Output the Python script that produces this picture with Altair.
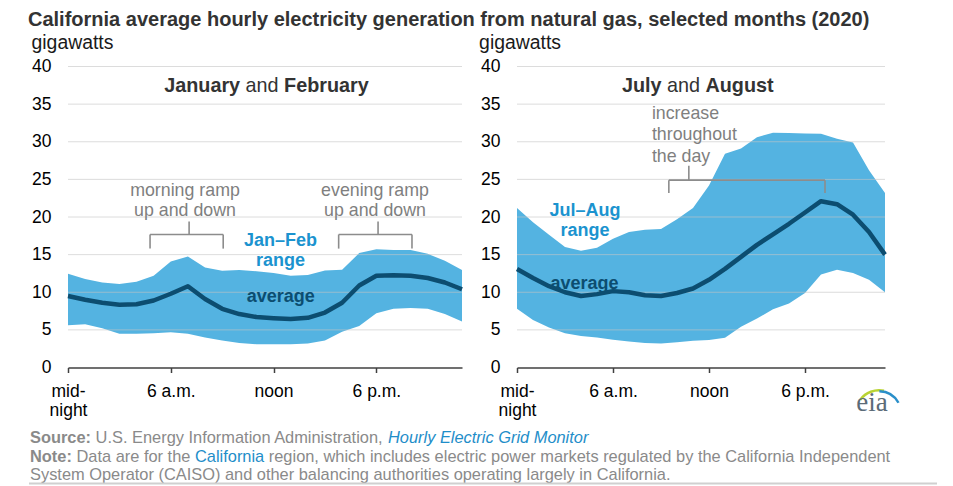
import altair as alt
import pandas as pd

# ---------------- data ----------------
HOURS = list(range(24))

JF_AVG = [9.5, 9.0, 8.6, 8.35, 8.4, 8.9, 9.8, 10.8, 9.1, 7.8, 7.1, 6.7, 6.55, 6.45, 6.6, 7.3, 8.6, 10.9, 12.2, 12.25, 12.2, 11.9, 11.3, 10.4]
JF_HI = [12.45, 11.75, 11.3, 11.1, 11.4, 12.2, 14.1, 14.75, 13.3, 12.85, 12.95, 12.8, 12.55, 12.2, 12.3, 12.9, 13.0, 15.2, 15.7, 15.6, 15.6, 15.1, 14.2, 12.95]
JF_LO = [5.6, 5.75, 5.2, 4.5, 4.5, 4.55, 4.7, 4.5, 4.0, 3.6, 3.25, 3.1, 3.1, 3.1, 3.2, 3.6, 4.75, 5.5, 7.2, 7.8, 7.9, 7.8, 7.1, 6.1]

JA_AVG = [13.1, 11.9, 10.8, 10.0, 9.5, 9.75, 10.15, 10.0, 9.6, 9.5, 9.9, 10.5, 11.65, 13.1, 14.7, 16.3, 17.7, 19.1, 20.6, 22.1, 21.7, 20.3, 18.0, 15.0]
JA_HI = [21.2, 19.3, 17.65, 16.0, 15.5, 15.9, 17.1, 18.0, 18.3, 18.4, 19.7, 21.2, 24.2, 28.4, 29.1, 30.6, 31.2, 31.15, 31.1, 31.05, 30.4, 29.9, 26.2, 23.2]
JA_LO = [7.8, 6.3, 5.3, 4.55, 4.2, 4.0, 3.7, 3.45, 3.25, 3.2, 3.35, 3.55, 3.65, 3.95, 5.4, 6.5, 7.75, 8.5, 9.9, 12.35, 13.0, 12.55, 11.65, 10.0]

X_TICKS = [0, 6, 12, 18]
Y_TICKS = [0, 5, 10, 15, 20, 25, 30, 35, 40]
GRID_VALUES = [5, 10, 15, 20, 25, 30, 35, 40]

TITLE = "California average hourly electricity generation from natural gas, selected months (2020)"

# ---------------- styles ----------------
FONT = "Liberation Sans"
AREA = "#54b3e1"
LINE = "#0c4d70"
BLUE_TXT = "#1b93cf"
GRAY_TXT = "#7f7f7f"
BRACKET = "#8c8c8c"
FOOT = "#8a8a8a"
LINK = "#1f8ec9"

xscale = alt.Scale(domain=[0, 23], nice=False, zero=False, padding=0)
yscale = alt.Scale(domain=[0, 40], nice=False)

label_expr = ("datum.value == 0 ? ['mid-', 'night'] : datum.value == 6 ? '6 a.m.' : "
              "datum.value == 12 ? 'noon' : '6 p.m.'")


def x_axis():
    return alt.Axis(values=X_TICKS, labelExpr=label_expr, title=None, grid=False,
                    domainColor="#404040", domainWidth=1.5, tickColor="#404040",
                    tickWidth=1.5, tickSize=5, labelFontSize=17.5, labelColor="#000000",
                    labelPadding=10, labelLineHeight=19, labelFont=FONT, labelAngle=0,
                    labelAlign="center", labelBaseline="top", labelOverlap=False)


def y_axis(tx):
    return alt.Axis(values=Y_TICKS, title="gigawatts", titleAngle=0, titleAlign="left",
                    titleBaseline="alphabetic", titleX=tx, titleY=-18, titleFontSize=19.4,
                    titleFontWeight="normal", titleColor="#1a1a1a", titleFont=FONT,
                    labelFontSize=17.5, labelColor="#000000", labelFont=FONT,
                    labelPadding=17, domain=False, ticks=False, grid=False,
                    labelOverlap=False)


def panel(avg, hi, lo, width, tx, sub_left, sub_right, sub_h, range_lbl, range_pos,
          avg_pos, notes, brackets, logo=False):
    def X(field):
        return alt.X(field, scale=xscale, axis=x_axis(), title=None)

    def Y(field):
        return alt.Y(field, scale=yscale, axis=y_axis(tx), title="gigawatts")

    df = pd.DataFrame({"hour": HOURS, "avg": avg, "hi": hi, "lo": lo})
    base = alt.Chart(df)
    area = base.mark_area(color=AREA, opacity=1).encode(
        x=X("hour:Q"), y=Y("lo:Q"), y2="hi:Q")
    grid = alt.Chart(pd.DataFrame({"g": GRID_VALUES})).mark_rule(
        color="#c4c4c4", opacity=0.6, strokeWidth=1).encode(y=Y("g:Q"))
    line = base.mark_line(color=LINE, strokeWidth=4.5, strokeJoin="round").encode(
        x=X("hour:Q"), y=Y("avg:Q"))

    segs = []
    for (x0, x1, xc, yh, ye, yt) in brackets:
        segs += [
            {"x": x0, "x2": x1, "y": yh, "y2": yh},
            {"x": x0, "x2": x0, "y": yh, "y2": ye},
            {"x": x1, "x2": x1, "y": yh, "y2": ye},
            {"x": xc, "x2": xc, "y": yh, "y2": yt},
        ]
    br = alt.Chart(pd.DataFrame(segs)).mark_rule(color=BRACKET, strokeWidth=1.6).encode(
        x=X("x:Q"), x2="x2:Q", y=Y("y:Q"), y2="y2:Q")

    ndf = pd.DataFrame(notes, columns=["h", "v", "t", "al"])
    note_layers = []
    for al in ndf["al"].unique():
        note_layers.append(
            alt.Chart(ndf[ndf["al"] == al]).mark_text(
                font=FONT, fontSize=17.8, color=GRAY_TXT, align=al, baseline="alphabetic"
            ).encode(x=X("h:Q"), y=Y("v:Q"), text="t:N"))

    rdf = pd.DataFrame({"h": [range_pos[0]] * 2, "v": [range_pos[1], range_pos[2]],
                        "t": [range_lbl, "range"]})
    rng = alt.Chart(rdf).mark_text(font=FONT, fontSize=18, fontWeight="bold", color=BLUE_TXT,
                                   align="center", baseline="alphabetic").encode(
        x=X("h:Q"), y=Y("v:Q"), text="t:N")
    adf = pd.DataFrame({"h": [avg_pos[0]], "v": [avg_pos[1]], "t": ["average"]})
    avl = alt.Chart(adf).mark_text(font=FONT, fontSize=18, fontWeight="bold", color=LINE,
                                   align="center", baseline="alphabetic").encode(
        x=X("h:Q"), y=Y("v:Q"), text="t:N")

    sdf = pd.DataFrame({"h": [sub_h], "v": [36.6]})
    sb = alt.Chart(sdf)
    enc = dict(x=X("h:Q"), y=Y("v:Q"))
    s1 = sb.mark_text(text=sub_left, font=FONT, fontSize=19.8, fontWeight="bold",
                      color="#333333", align="right", dx=-22, baseline="alphabetic").encode(**enc)
    s2 = sb.mark_text(text="and", font=FONT, fontSize=19.8, color="#333333",
                      align="center", baseline="alphabetic").encode(**enc)
    s3 = sb.mark_text(text=sub_right, font=FONT, fontSize=19.8, fontWeight="bold",
                      color="#333333", align="left", dx=22, baseline="alphabetic").encode(**enc)

    layers = [area, grid, line, br] + note_layers + [rng, avl, s1, s2, s3]
    if logo:
        one = alt.Chart(pd.DataFrame({"a": [1]}))
        arc1 = one.mark_arc(innerRadius=22, outerRadius=24.5, color="#b9d334").encode(
            x=alt.value(362), y=alt.value(347), theta=alt.value(5.35), theta2=alt.value(6.5))
        arc2 = one.mark_arc(innerRadius=21, outerRadius=23.5, color="#2a8fc9").encode(
            x=alt.value(362), y=alt.value(347), theta=alt.value(6.3), theta2=alt.value(7.35))
        lg = one.mark_text(
            text="eia", font="Liberation Serif", fontSize=27, color="#5b6b78",
            align="center", baseline="alphabetic").encode(
            x=alt.value(355), y=alt.value(344))
        layers += [arc1, arc2, lg]
    return alt.layer(*layers).properties(width=width, height=301)


left = panel(
    JF_AVG, JF_HI, JF_LO, 394, -37, "January", "February", 11.33,
    "Jan–Feb", (12.4, 16.2, 13.55), (12.42, 8.68),
    [(6.83, 22.76, "morning ramp", "center"), (6.83, 20.07, "up and down", "center"),
     (17.92, 22.76, "evening ramp", "center"), (17.92, 20.07, "up and down", "center")],
    [(4.79, 9.06, 7.07, 17.67, 15.8, 19.4), (15.8, 20.08, 18.1, 17.67, 15.8, 19.4)],
)

right = panel(
    JA_AVG, JA_HI, JA_LO, 368, -38.4, "July", "August", 10.405,
    "Jul–Aug", (4.25, 20.07, 17.54), (4.22, 10.46),
    [(8.43, 32.96, "increase", "left"), (8.43, 30.17, "throughout", "left"),
     (8.43, 27.37, "the day", "left")],
    [(9.49, 19.25, 10.74, 24.9, 23.2, 26.8)],
    logo=True,
)

# ---------------- footer ----------------
FS = 16.4
X0 = -38
foot_rows = [
    (X0, 18, "Source:", "bold", "normal", FOOT),
    (X0 + 65.6, 18, "U.S. Energy Information Administration,", "normal", "normal", FOOT),
    (X0 + 358, 18, "Hourly Electric Grid Monitor", "normal", "italic", LINK),
    (X0, 37, "Note:", "bold", "normal", FOOT),
    (X0 + 46.5, 37, "Data are for the", "normal", "normal", FOOT),
    (X0 + 165.0, 37, "California", "normal", "normal", LINK),
    (X0 + 238.8, 37, "region, which includes electric power markets regulated by the California Independent",
     "normal", "normal", FOOT),
    (X0, 55, "System Operator (CAISO) and other balancing authorities operating largely in California.",
     "normal", "normal", FOOT),
]
fdf = pd.DataFrame(foot_rows, columns=["x", "y", "t", "w", "s", "c"])
foot_layers = []
for (w, s, c), g in fdf.groupby(["w", "s", "c"]):
    foot_layers.append(
        alt.Chart(g).mark_text(font=FONT, fontSize=FS, fontWeight=w, fontStyle=s, color=c,
                               align="left", baseline="middle").encode(
            x=alt.X("x:Q", scale=None, axis=None), y=alt.Y("y:Q", scale=None, axis=None),
            text="t:N"))
rule = alt.Chart(pd.DataFrame({"a": [1]})).mark_rule(color="#d0d0d0", strokeWidth=2).encode(
    x=alt.value(-39), x2=alt.value(869), y=alt.value(64))
footer = alt.layer(*foot_layers, rule).properties(width=820, height=64)

chart = alt.vconcat(
    alt.hconcat(left, right, spacing=13),
    footer,
    spacing=0,
).properties(
    title=alt.TitleParams(text=TITLE, anchor="start", fontSize=20, font=FONT,
                          fontWeight="bold", color="#333333", offset=3),
    padding={"left": 20, "top": 1.5, "right": 0, "bottom": 0},
).configure(font=FONT).configure_view(strokeWidth=0).configure_concat(spacing=0)

chart.save("out.html", embed_options={"renderer": "svg", "actions": False})
